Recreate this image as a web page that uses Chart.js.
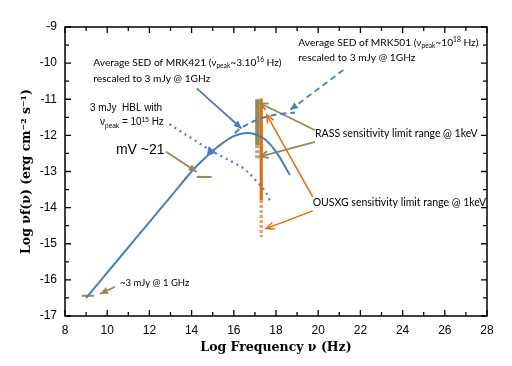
<!DOCTYPE html>
<html>
<head>
<meta charset="utf-8">
<script src="https://cdn.jsdelivr.net/npm/chart.js@4.4.0/dist/chart.umd.min.js"></script>
<style>
html, body { margin: 0; padding: 0; background: #fff; }
</style>
</head>
<body>
<canvas id="sed" width="512" height="366"></canvas>
<script>
// tick labels
var xTicks = [8, 10, 12, 14, 16, 18, 20, 22, 24, 26, 28];
var yTicks = [-17, -16, -15, -14, -13, -12, -11, -10, -9];

// Average SED of MRK421, rescaled
var mrk421X = [9, 10, 11, 12, 13, 14, 14.5, 15, 15.5, 16, 16.5, 17, 17.5, 18, 18.66];
var mrk421Y = [-16.5, -15.8, -15.1, -14.4, -13.7, -13.0, -12.7, -12.43, -12.2, -12.02, -11.94, -11.97, -12.12, -12.45, -13.1];

// Average SED of MRK501, rescaled
var mrk501X = [16.06, 16.3, 16.8, 17.3, 17.8, 18.3, 18.9];
var mrk501Y = [-11.94, -11.81, -11.65, -11.53, -11.45, -11.40, -11.37];

// 3 mJy HBL, nu_peak = 1e15
var hblX = [12.95, 13.5, 14.0, 14.5, 15.0, 15.5, 16.0, 16.5, 17.0, 17.5, 17.75];
var hblY = [-11.69, -11.9, -12.08, -12.27, -12.45, -12.6, -12.76, -12.93, -13.22, -13.56, -13.86];

// sensitivity ranges @ 1keV  [x, top, solid end, dashed end]
var rassRange = [17.12, -11.0, -12.27, -12.63];
var ousxgRange = [17.3, -10.98, -13.79, -14.81];

// short olive level marks [x0, x1, y]
var optMark = [14.24, 14.95, -13.15];
var radioMark = [8.79, 9.37, -16.44];

// annotation arrows [x0, y0, x1, y1]
var arrowMrk421 = [14.24, -10.70, 16.37, -11.81];
var arrowMrk501 = [21.19, -10.19, 18.66, -11.30];
var arrowRassUp = [19.85, -11.86, 17.25, -11.11];
var arrowRassDown = [19.85, -12.18, 17.25, -12.59];
var arrowMv = [12.79, -12.45, 14.24, -13.01];
var arrowRadio = [10.37, -16.19, 9.66, -16.39];
var arrowOusxgUp = [19.74, -13.70, 17.56, -11.43];
var arrowOusxgDown = [19.74, -14.09, 17.53, -14.58];
var markerPoint = [14.9, -12.45];

var blue = '#4a7ebb';
var olive = '#948a54';
var orange = '#e46c0a';

var axisFont = '"Liberation Sans", Arial, sans-serif';
var noteFont = 'Lato, "Open Sans", sans-serif';
var titleFont = '"DejaVu Serif", serif';

function pts(xs, ys) {
	return xs.map(function (x, i) { return {x: x, y: ys[i]}; });
}

function line(data, color, width, dash, extra) {
	var ds = {
		data: data,
		showLine: true,
		borderColor: color,
		backgroundColor: color,
		borderWidth: width,
		borderDash: dash || [],
		pointRadius: 0,
		pointHoverRadius: 0,
		tension: 0
	};
	for (var k in extra) ds[k] = extra[k];
	return ds;
}

function arrow(a, color, width, head, dash) {
	return line([{x: a[0], y: a[1]}, {x: a[2], y: a[3]}], color, width, dash, {head: head});
}

var datasets = [
	line(pts(mrk421X, mrk421Y), blue, 2, [], {tension: 0.35}),
	line(pts(mrk501X, mrk501Y), blue, 2, [6, 4], {tension: 0.35}),
	line(pts(hblX, hblY), blue, 2.2, [2, 4], {tension: 0.35}),
	line([{x: rassRange[0], y: rassRange[1]}, {x: rassRange[0], y: rassRange[2]}], olive, 4.5),
	line([{x: rassRange[0], y: rassRange[2]}, {x: rassRange[0], y: rassRange[3]}], '#b3ab88', 4.5, [3, 2]),
	line([{x: ousxgRange[0], y: ousxgRange[1]}, {x: ousxgRange[0], y: ousxgRange[2]}], orange, 3.2),
	line([{x: ousxgRange[0], y: ousxgRange[2]}, {x: ousxgRange[0], y: ousxgRange[3]}], '#ee9a5a', 3.2, [3, 2]),
	line([{x: optMark[0], y: optMark[2]}, {x: optMark[1], y: optMark[2]}], olive, 2),
	line([{x: radioMark[0], y: radioMark[2]}, {x: radioMark[1], y: radioMark[2]}], olive, 2),
	arrow(arrowMrk421, blue, 1.8, 'filled'),
	arrow(arrowMrk501, blue, 1.8, 'filled', [6, 4]),
	arrow(arrowRassUp, olive, 1.8, 'open'),
	arrow(arrowRassDown, olive, 1.8, 'open'),
	arrow(arrowMv, olive, 1.8, 'filled'),
	arrow(arrowRadio, olive, 1.8, 'filled'),
	arrow(arrowOusxgUp, orange, 1.5, 'open'),
	arrow(arrowOusxgDown, orange, 1.5, 'open'),
	{
		data: [{x: markerPoint[0], y: markerPoint[1]}],
		showLine: false,
		pointStyle: 'triangle',
		pointRadius: 5,
		pointRotation: -20,
		pointBackgroundColor: blue,
		pointBorderColor: blue,
		pointBorderWidth: 1
	}
];

// text notes, placed in data units
var notes = [
	{x: 9.34, y: -9.99, size: 10.2, font: noteFont, parts: [['Average SED of MRK421 (ν'], ['peak', 'sub'], ['~3.10'], ['16', 'sup'], [' Hz)']]},
	{x: 9.34, y: -10.42, size: 10.2, font: noteFont, parts: [['rescaled to 3 mJy @ 1GHz']]},
	{x: 19.06, y: -9.43, size: 10.2, font: noteFont, parts: [['Average SED of MRK501 (ν'], ['peak', 'sub'], ['~10'], ['18', 'sup'], [' Hz)']]},
	{x: 19.06, y: -9.84, size: 10.2, font: noteFont, parts: [['rescaled to 3 mJy @ 1GHz']]},
	{x: 9.18, y: -11.25, size: 10, font: axisFont, parts: [['3 mJy  HBL with']]},
	{x: 9.66, y: -11.65, size: 10, font: axisFont, parts: [['ν'], ['peak', 'sub'], [' = 10'], ['15', 'sup'], [' Hz']]},
	{x: 12.72, y: -12.42, size: 14, font: axisFont, align: 'right', parts: [['mV ~21']]},
	{x: 10.61, y: -16.09, size: 9.5, font: noteFont, parts: [['~3 mJy @ 1 GHz']]},
	{x: 19.85, y: -11.95, size: 10.5, font: noteFont, parts: [['RASS sensitivity limit range @ 1keV']]},
	{x: 19.74, y: -13.86, size: 10.5, font: noteFont, parts: [['OUSXG sensitivity limit range @ 1keV']]}
];

function drawRich(ctx, x, y, parts, size, family, align) {
	var w = 0;
	parts.forEach(function (p) {
		ctx.font = (p[1] ? size * 0.65 : size) + 'px ' + family;
		w += ctx.measureText(p[0]).width;
	});
	var cx = align === 'right' ? x - w : x;
	ctx.textAlign = 'left';
	ctx.textBaseline = 'middle';
	parts.forEach(function (p) {
		var s = p[1] ? size * 0.65 : size;
		var dy = p[1] === 'sub' ? size * 0.3 : (p[1] === 'sup' ? -size * 0.3 : 0);
		ctx.font = s + 'px ' + family;
		ctx.fillText(p[0], cx, y + dy);
		cx += ctx.measureText(p[0]).width;
	});
}

var sedPlugin = {
	id: 'sedDecor',
	afterDatasetsDraw: function (chart) {
		var ctx = chart.ctx;
		var xs = chart.scales.x, ys = chart.scales.y;
		var a = chart.chartArea;

		// arrow heads
		chart.data.datasets.forEach(function (ds, i) {
			if (!ds.head) return;
			var m = chart.getDatasetMeta(i).data;
			var p0 = m[0], p1 = m[1];
			var ang = Math.atan2(p1.y - p0.y, p1.x - p0.x);
			var len = 8, hw = 3.5;
			ctx.save();
			ctx.translate(p1.x, p1.y);
			ctx.rotate(ang);
			ctx.strokeStyle = ds.borderColor;
			ctx.fillStyle = ds.borderColor;
			ctx.lineWidth = ds.borderWidth;
			ctx.setLineDash([]);
			ctx.beginPath();
			ctx.moveTo(-len, -hw);
			ctx.lineTo(0, 0);
			ctx.lineTo(-len, hw);
			if (ds.head === 'filled') {
				ctx.closePath();
				ctx.fill();
			} else {
				ctx.stroke();
			}
			ctx.restore();
		});

		// frame with inward ticks
		ctx.save();
		ctx.strokeStyle = '#000';
		ctx.lineWidth = 1.5;
		ctx.strokeRect(a.left, a.top, a.right - a.left, a.bottom - a.top);
		ctx.lineWidth = 1.3;
		ctx.beginPath();
		for (var v = xs.min; v <= xs.max; v += 1) {
			var px = xs.getPixelForValue(v);
			var len = v % 2 === 0 ? 6 : 4;
			ctx.moveTo(px, a.bottom); ctx.lineTo(px, a.bottom - len);
			ctx.moveTo(px, a.top); ctx.lineTo(px, a.top + len);
		}
		for (var w = ys.min; w <= ys.max; w += 0.5) {
			var py = ys.getPixelForValue(w);
			var l2 = Number.isInteger(w) ? 6 : 4;
			ctx.moveTo(a.left, py); ctx.lineTo(a.left + l2, py);
			ctx.moveTo(a.right, py); ctx.lineTo(a.right - l2, py);
		}
		ctx.stroke();
		ctx.restore();
	},
	afterDraw: function (chart) {
		var ctx = chart.ctx;
		var xs = chart.scales.x, ys = chart.scales.y;
		var a = chart.chartArea;
		ctx.save();
		ctx.fillStyle = '#000';
		notes.forEach(function (n) {
			drawRich(ctx, xs.getPixelForValue(n.x), ys.getPixelForValue(n.y), n.parts, n.size, n.font, n.align);
		});

		// axis titles
		ctx.textAlign = 'center';
		ctx.textBaseline = 'middle';
		ctx.font = 'bold 12.5px ' + titleFont;
		ctx.fillText('Log Frequency ν (Hz)', (a.left + a.right) / 2, 348);
		ctx.translate(27, (a.top + a.bottom) / 2);
		ctx.rotate(-Math.PI / 2);
		ctx.fillText('Log νf(ν) (erg cm⁻² s⁻¹)', 0, 0);
		ctx.restore();
	}
};

new Chart(document.getElementById('sed').getContext('2d'), {
	type: 'scatter',
	data: {datasets: datasets},
	plugins: [sedPlugin],
	options: {
		responsive: false,
		animation: false,
		events: [],
		layout: {padding: {top: 27, right: 25, left: 0, bottom: 0}},
		plugins: {legend: {display: false}, tooltip: {enabled: false}},
		scales: {
			x: {
				type: 'linear',
				min: 8,
				max: 28,
				grid: {display: false, drawTicks: false},
				border: {display: false},
				afterBuildTicks: function (s) { s.ticks = xTicks.map(function (v) { return {value: v}; }); },
				afterFit: function (s) { s.height = 50; },
				ticks: {color: '#000', padding: 7, font: {family: axisFont, size: 12}}
			},
			y: {
				type: 'linear',
				min: -17,
				max: -9,
				grid: {display: false, drawTicks: false},
				border: {display: false},
				afterBuildTicks: function (s) { s.ticks = yTicks.map(function (v) { return {value: v}; }); },
				afterFit: function (s) { s.width = 65; },
				ticks: {color: '#000', padding: 8, font: {family: axisFont, size: 12}}
			}
		}
	}
});
</script>
</body>
</html>
